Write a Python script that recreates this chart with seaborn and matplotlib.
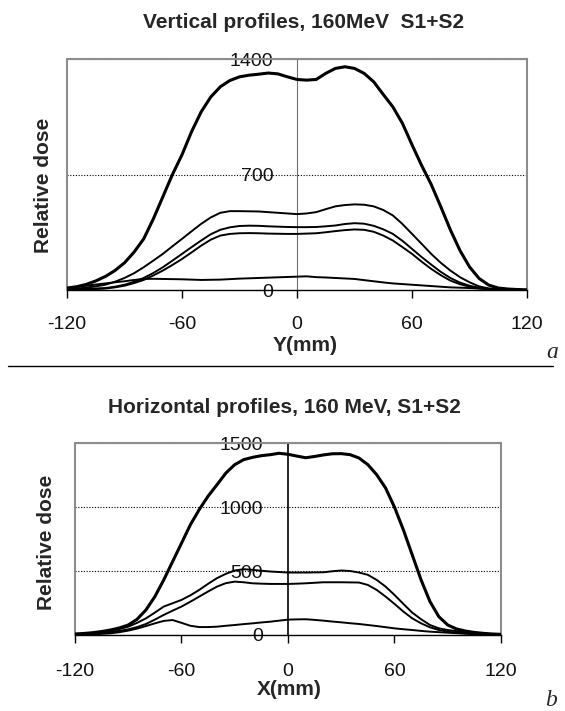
import matplotlib
matplotlib.use("Agg")
import matplotlib.pyplot as plt
import numpy as np
import pandas as pd
import seaborn as sns
from matplotlib.lines import Line2D

# sampling positions (mm), shared by every profile
x_mm = [-120, -115, -110, -105, -100, -95, -90, -85, -80, -75, -70, -65, -60,
        -55, -50, -45, -40, -35, -30, -25, -20, -15, -10, -5, 0, 5, 10, 15,
        20, 25, 30, 35, 40, 45, 50, 55, 60, 65, 70, 75, 80, 85, 90, 95, 100,
        105, 110, 115, 120]

# --- panel a: vertical profiles ---
vert_sum = [12, 20, 34, 55, 82, 118, 165, 230, 310, 430, 565, 700, 820, 960,
            1080, 1170, 1232, 1270, 1292, 1302, 1308, 1315, 1310, 1292, 1276,
            1272, 1276, 1313, 1343, 1353, 1343, 1313, 1262, 1185, 1110, 1010,
            880, 755, 640, 505, 365, 240, 140, 70, 30, 12, 6, 3, 1]
vert_p2 = [3, 8, 15, 22, 32, 50, 73, 102, 138, 178, 219, 265, 310, 356, 401,
           440, 468, 478, 478, 477, 476, 472, 468, 464, 460, 464, 472, 490,
           507, 515, 519, 517, 507, 485, 452, 400, 340, 280, 219, 165, 118,
           78, 47, 22, 10, 5, 3, 2, 1]
vert_p3 = [2, 4, 7, 9, 12, 20, 32, 50, 73, 103, 138, 178, 219, 260, 300, 338,
           365, 380, 388, 390, 389, 386, 384, 382, 381, 381, 382, 386, 391,
           400, 405, 402, 389, 368, 340, 298, 249, 200, 154, 110, 73, 45, 26,
           14, 6, 3, 2, 1, 0]
vert_p4 = [1, 2, 4, 6, 9, 16, 26, 42, 61, 88, 118, 152, 188, 228, 269, 305,
           330, 340, 344, 345, 344, 342, 341, 340, 340, 342, 344, 350, 357,
           363, 367, 365, 353, 330, 300, 260, 219, 172, 128, 90, 57, 35, 20,
           10, 4, 2, 1, 1, 0]
vert_p5 = [12, 19, 26, 33, 40, 47, 53, 61, 67, 68, 67, 66, 65, 63, 61, 62, 63,
           66, 69, 71, 73, 75, 77, 79, 81, 83, 78, 76, 73, 70, 67, 60, 53, 46,
           40, 36, 32, 28, 24, 20, 16, 14, 12, 9, 6, 4, 2, 1, 0]

# --- panel b: horizontal profiles ---
hor_sum = [8, 12, 18, 27, 39, 55, 78, 123, 196, 300, 430, 574, 717, 861, 980,
           1085, 1174, 1265, 1331, 1370, 1388, 1401, 1409, 1420, 1412, 1398,
           1385, 1395, 1407, 1416, 1417, 1409, 1383, 1331, 1252, 1148, 999,
           822, 626, 430, 261, 143, 78, 47, 31, 20, 13, 8, 5]
hor_p2 = [5, 8, 13, 21, 31, 46, 65, 95, 130, 175, 222, 248, 274, 310, 352,
          400, 444, 478, 504, 514, 509, 502, 496, 492, 488, 488, 488, 489,
          490, 498, 504, 500, 488, 470, 430, 378, 313, 243, 175, 123, 78, 52,
          39, 30, 21, 15, 10, 6, 3]
hor_p3 = [3, 6, 10, 16, 23, 32, 44, 62, 86, 120, 157, 190, 222, 260, 300, 340,
          378, 405, 417, 412, 404, 401, 399, 399, 399, 401, 404, 408, 412,
          412, 412, 411, 410, 391, 352, 300, 243, 183, 130, 91, 60, 39, 26,
          19, 13, 8, 5, 2, 0]
hor_p4 = [0, 2, 5, 9, 13, 22, 34, 50, 70, 91, 110, 117, 95, 72, 62, 62, 65,
          72, 78, 85, 91, 98, 104, 112, 120, 122, 123, 118, 112, 105, 99, 92,
          86, 78, 70, 61, 52, 45, 39, 32, 26, 22, 18, 14, 10, 7, 5, 2, 0]

x_ticks = [-120, -60, 0, 60, 120]
vert_yticks = [0, 700, 1400]
hor_yticks = [0, 500, 1000, 1500]

sns.set_style("white")
plt.rcParams["font.family"] = ["Liberation Sans", "DejaVu Sans"]
plt.rcParams["axes.unicode_minus"] = False

FRAME = "#8c8c8c"

fig = plt.figure(figsize=(5.65, 7.11), dpi=100)
ax1 = fig.add_axes([0.1186, 0.5921, 0.8142, 0.3249])
ax2 = fig.add_axes([0.1327, 0.1069, 0.7540, 0.2700])


def draw(ax, curves):
    for vals, lw in curves:
        sns.lineplot(x=x_mm, y=vals, ax=ax, color="black", linewidth=lw,
                     legend=False, zorder=3)


def style(ax, yticks, axis_color, axis_lw, ypad, xpad):
    ax.set_xlim(-120, 120)
    ax.set_ylim(yticks[0], yticks[-1])
    ax.set_xticks(x_ticks)
    ax.set_yticks(yticks)
    ax.set_xticklabels([str(t) for t in x_ticks])
    ax.set_yticklabels([str(t) for t in yticks])
    for s in ["top", "right"]:
        ax.spines[s].set_color(FRAME)
        ax.spines[s].set_linewidth(1.5)
    ax.spines["left"].set_position(("data", 0))
    ax.spines["left"].set_color(axis_color)
    ax.spines["left"].set_linewidth(axis_lw)
    ax.spines["bottom"].set_color("black")
    ax.spines["bottom"].set_linewidth(1.0)
    ax.axvline(-120, color=FRAME, lw=1.5, clip_on=False, zorder=2.5)
    ax.tick_params(axis="y", length=0, pad=ypad, labelsize=14,
                   labelcolor="#111111")
    ax.tick_params(axis="x", length=5.8, width=1, direction="out", pad=xpad,
                   labelsize=14, color="black", labelcolor="#111111",
                   bottom=True)
    ax.yaxis.grid(True, linestyle=(0, (1, 1.5)), color="black", lw=0.8)
    ax.xaxis.grid(False)
    ax.set_axisbelow(True)


draw(ax1, [(vert_sum, 2.2), (vert_p2, 1.4), (vert_p3, 1.4),
           (vert_p4, 1.4), (vert_p5, 1.4)])
style(ax1, vert_yticks, "#707070", 0.8, 17, 13)
ax1.set_xlabel("Y(mm)", fontsize=15, fontweight="bold", va="center")
ax1.set_ylabel("Relative dose", fontsize=15, fontweight="bold", va="center")
ax1.xaxis.set_label_coords(0.517, -0.242)
ax1.yaxis.set_label_coords(-0.052, 0.455)

draw(ax2, [(hor_sum, 2.2), (hor_p2, 1.4), (hor_p3, 1.4), (hor_p4, 1.4)])
style(ax2, hor_yticks, "black", 1.2, 18, 14.4)
ax2.set_xlabel("X(mm)", fontsize=15, fontweight="bold", va="center")
ax2.set_ylabel("Relative dose", fontsize=15, fontweight="bold", va="center")
ax2.xaxis.set_label_coords(0.502, -0.2865)
ax2.yaxis.set_label_coords(-0.0657, 0.484)

fig.text(0.538, 0.9677, "Vertical profiles, 160MeV  S1+S2", ha="center",
         va="center", fontsize=15, fontweight="bold")
fig.text(0.503, 0.4262, "Horizontal profiles, 160 MeV, S1+S2", ha="center",
         va="center", fontsize=15, fontweight="bold")

serif = ["Liberation Serif", "DejaVu Serif"]
fig.text(0.978, 1 - 352 / 711, "a", ha="center", va="center", fontsize=17,
         style="italic", family=serif)
fig.text(0.975, 1 - 700 / 711, "b", ha="center", va="center", fontsize=17,
         style="italic", family=serif)

fig.add_artist(Line2D([8 / 565, 553 / 565], [1 - 366 / 711, 1 - 366 / 711],
                      color="black", lw=1.0))

fig.savefig("out.png", dpi=100)
